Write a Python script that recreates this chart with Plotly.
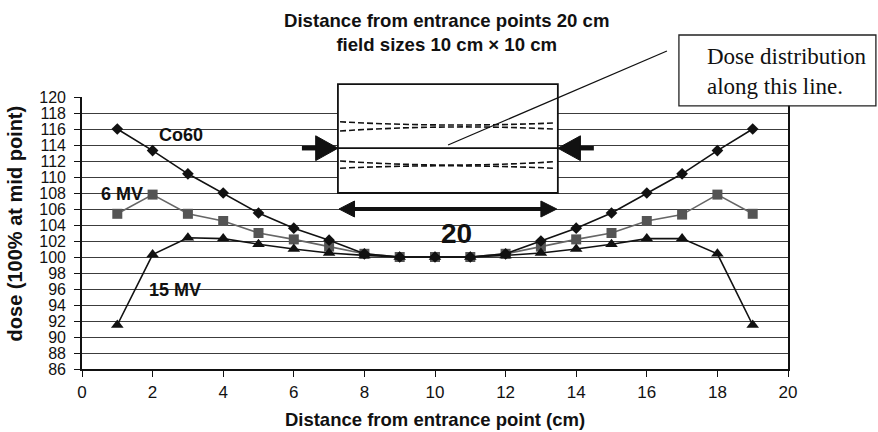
import plotly.graph_objects as go

# Depth positions along the beam axis (cm)
x_cm = list(range(1, 20))

# Relative dose (% of mid-point dose) for parallel-opposed fields
co60 = [116.0, 113.3, 110.4, 108.0, 105.5, 103.6, 102.1, 100.4, 100.0, 100.0,
        100.0, 100.4, 102.0, 103.6, 105.5, 108.0, 110.4, 113.3, 116.0]
mv6 = [105.4, 107.8, 105.4, 104.5, 103.0, 102.2, 101.3, 100.4, 100.0, 100.0,
       100.0, 100.4, 101.3, 102.2, 103.0, 104.5, 105.3, 107.8, 105.4]
mv15 = [91.5, 100.3, 102.4, 102.3, 101.6, 101.0, 100.5, 100.2, 100.0, 100.0,
        100.0, 100.2, 100.5, 101.0, 101.6, 102.3, 102.3, 100.4, 91.5]

series_names = ["6 MV", "Co60", "15 MV"]

X_RANGE = [0, 20]
Y_RANGE = [86, 120]

SANS = "Liberation Sans, Arial, sans-serif"
SERIF = "Liberation Serif, Times New Roman, serif"


def px(x):
    """Data x -> paper fraction (plot area fills the paper domain)."""
    return (x - X_RANGE[0]) / (X_RANGE[1] - X_RANGE[0])


def py(y):
    """Data y -> paper fraction."""
    return (y - Y_RANGE[0]) / (Y_RANGE[1] - Y_RANGE[0])


fig = go.Figure()

fig.add_trace(go.Scatter(
    x=x_cm, y=mv6, name=series_names[0], mode="lines+markers",
    line=dict(color="#666666", width=1.6),
    marker=dict(symbol="square", size=10, color="#555555"),
))
fig.add_trace(go.Scatter(
    x=x_cm, y=co60, name=series_names[1], mode="lines+markers",
    line=dict(color="#111111", width=1.6),
    marker=dict(symbol="diamond", size=9, color="#111111"),
))
fig.add_trace(go.Scatter(
    x=x_cm, y=mv15, name=series_names[2], mode="lines+markers",
    line=dict(color="#111111", width=1.6),
    marker=dict(symbol="triangle-up", size=11, color="#111111"),
))

shapes = []

# White patch behind the "20" label
shapes.append(dict(type="rect", xref="paper", yref="paper", layer="between",
                   x0=px(9.52), x1=px(11.67), y0=py(100.9), y1=py(105.3),
                   fillcolor="white", line=dict(width=0)))

# Inset: phantom cross-section box
bx0, bx1, by0, by1 = 7.25, 13.48, 108.0, 121.6
shapes.append(dict(type="rect", xref="paper", yref="paper", layer="above",
                   x0=px(bx0), x1=px(bx1), y0=py(by0), y1=py(by1),
                   fillcolor="white", line=dict(color="#111111", width=1.8)))
# central axis line
mid_y = 113.6
shapes.append(dict(type="line", xref="paper", yref="paper", layer="above",
                   x0=px(bx0), x1=px(bx1), y0=py(mid_y), y1=py(mid_y),
                   line=dict(color="#111111", width=1.8)))


def curve(x0, x1, y_left, y_mid, y_right):
    xm = (x0 + x1) / 2
    ctrl = 2 * y_mid - (y_left + y_right) / 2
    return (f"M {px(x0)},{py(y_left)} Q {px(xm)},{py(ctrl)} {px(x1)},{py(y_right)}")


# isodose-like dashed curves inside the box
cx0, cx1 = 7.31, 13.34
for yl, ym, yr in [(116.9, 116.5, 116.75), (115.75, 116.25, 116.0),
                   (112.0, 111.5, 111.9), (111.1, 111.4, 111.1)]:
    shapes.append(dict(type="path", xref="paper", yref="paper", layer="above",
                       path=curve(cx0, cx1, yl, ym, yr),
                       line=dict(color="#111111", width=1.6, dash="6px,3px")))


def poly(points):
    return "M " + " L ".join(f"{px(a)},{py(b)}" for a, b in points) + " Z"


# beam-entry arrows (pointing inward to the box)
head_h = 1.55
shapes.append(dict(type="line", xref="paper", yref="paper", layer="above",
                   x0=px(6.23), x1=px(6.8), y0=py(mid_y), y1=py(mid_y),
                   line=dict(color="#111111", width=4.5)))
shapes.append(dict(type="path", xref="paper", yref="paper", layer="above",
                   path=poly([(bx0, mid_y), (6.62, mid_y + head_h), (6.62, mid_y - head_h)]),
                   fillcolor="#111111", line=dict(color="#111111", width=1)))
shapes.append(dict(type="line", xref="paper", yref="paper", layer="above",
                   x0=px(13.95), x1=px(14.5), y0=py(mid_y), y1=py(mid_y),
                   line=dict(color="#111111", width=4.5)))
shapes.append(dict(type="path", xref="paper", yref="paper", layer="above",
                   path=poly([(bx1, mid_y), (14.12, mid_y + head_h), (14.12, mid_y - head_h)]),
                   fillcolor="#111111", line=dict(color="#111111", width=1)))

# double-headed width arrow below the box
ay = 106.0
shapes.append(dict(type="line", xref="paper", yref="paper", layer="above",
                   x0=px(7.6), x1=px(13.1), y0=py(ay), y1=py(ay),
                   line=dict(color="#111111", width=4)))
shapes.append(dict(type="path", xref="paper", yref="paper", layer="above",
                   path=poly([(7.28, ay), (7.72, ay + 1.0), (7.72, ay - 1.0)]),
                   fillcolor="#111111", line=dict(color="#111111", width=1)))
shapes.append(dict(type="path", xref="paper", yref="paper", layer="above",
                   path=poly([(13.45, ay), (13.0, ay + 1.0), (13.0, ay - 1.0)]),
                   fillcolor="#111111", line=dict(color="#111111", width=1)))

# leader line to the callout
shapes.append(dict(type="line", xref="paper", yref="paper", layer="above",
                   x0=px(10.37), y0=py(114.0), x1=px(16.57), y1=py(125.75),
                   line=dict(color="#111111", width=1.3)))
# callout box
shapes.append(dict(type="rect", xref="paper", yref="paper", layer="above",
                   x0=px(16.91), x1=px(22.49), y0=py(118.9), y1=py(127.75),
                   fillcolor="white", line=dict(color="#222222", width=1.3)))

annotations = [
    dict(text="Distance from entrance points 20 cm<br>field sizes 10 cm \u00d7 10 cm",
         xref="paper", yref="paper", x=px(10.34), y=py(128.1),
         showarrow=False, xanchor="center", yanchor="middle",
         font=dict(family=SANS, size=18.6, color="#111111", weight="bold")),
    dict(text="Dose distribution<br>along this line.",
         xref="paper", yref="paper", x=px(17.65), y=py(123.2),
         showarrow=False, xanchor="left", yanchor="middle", align="left",
         font=dict(family=SERIF, size=23, color="#111111")),
    dict(text="20", xref="paper", yref="paper", x=px(10.62), y=py(102.9),
         showarrow=False, xanchor="center", yanchor="middle",
         font=dict(family=SANS, size=28, color="#111111", weight="bold")),
    dict(text="Co60", xref="paper", yref="paper", x=px(2.8), y=py(115.25),
         showarrow=False, xanchor="center", yanchor="middle",
         font=dict(family=SANS, size=18, color="#111111", weight="bold")),
    dict(text="6 MV", xref="paper", yref="paper", x=px(1.13), y=py(107.9),
         showarrow=False, xanchor="center", yanchor="middle",
         font=dict(family=SANS, size=18, color="#111111", weight="bold")),
    dict(text="15 MV", xref="paper", yref="paper", x=px(2.63), y=py(95.9),
         showarrow=False, xanchor="center", yanchor="middle",
         font=dict(family=SANS, size=18, color="#111111", weight="bold")),
    # vertical axis title
    dict(text="dose (100% at mid point)", xref="paper", yref="paper",
         x=-67 / 706, y=py(104.2), textangle=-90,
         showarrow=False, xanchor="center", yanchor="middle",
         font=dict(family=SANS, size=20, color="#111111", weight="bold")),
]

fig.update_layout(
    width=878, height=432,
    margin=dict(l=82, r=90, t=97, b=63, pad=0, autoexpand=False),
    paper_bgcolor="white", plot_bgcolor="white",
    showlegend=False,
    shapes=shapes,
    annotations=annotations,
    font=dict(family=SANS, color="#111111"),
    xaxis=dict(
        range=X_RANGE, tick0=0, dtick=2, showgrid=False, zeroline=False,
        automargin=False,
        ticks="outside", ticklen=6, tickwidth=1.3, tickcolor="#111111",
        showline=True, linecolor="#111111", linewidth=1.6,
        ticklabelstandoff=1,
        tickfont=dict(family=SANS, size=17, color="#111111"),
        title=dict(text="Distance from entrance point (cm)", standoff=12,
                   font=dict(family=SANS, size=18.5, color="#111111", weight="bold")),
    ),
    yaxis=dict(
        range=Y_RANGE, tick0=86, dtick=2, showgrid=True, gridcolor="#3c3c3c",
        gridwidth=1, zeroline=False, automargin=False,
        ticks="outside", ticklen=6, tickwidth=1.3, tickcolor="#111111",
        showline=True, mirror=True, linecolor="#111111", linewidth=1.6,
        ticklabelstandoff=5,
        tickfont=dict(family=SANS, size=16, color="#111111"),
    ),
)

fig.write_html("out.html")
